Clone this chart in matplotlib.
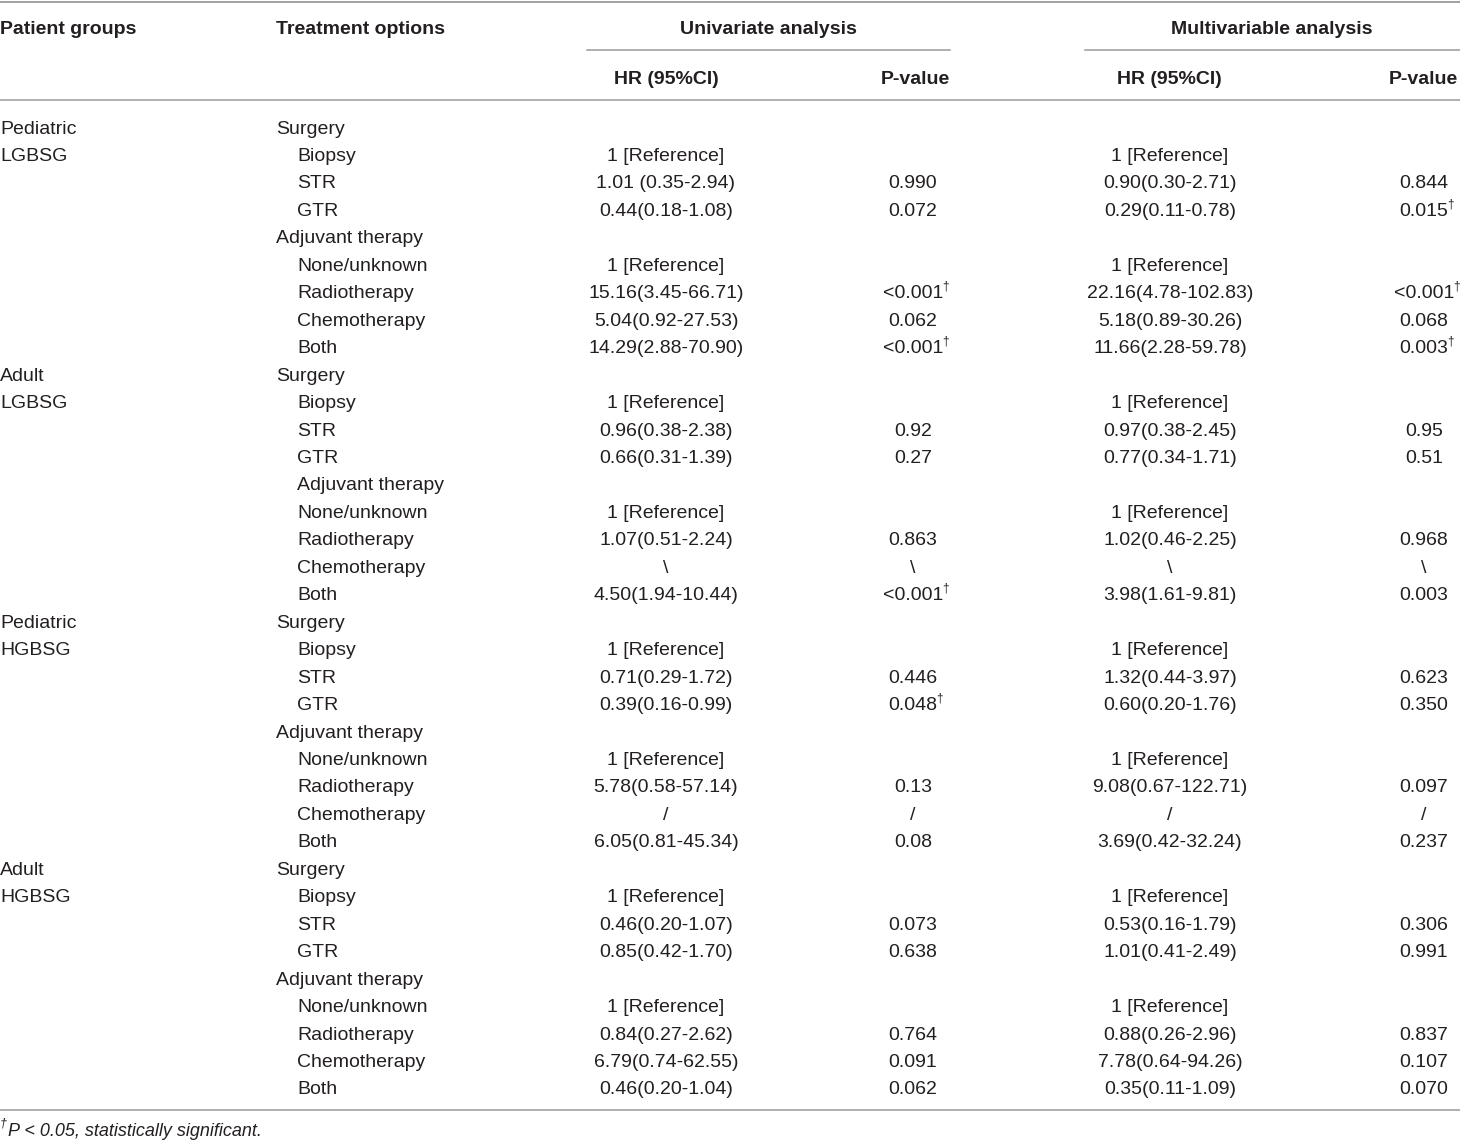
import matplotlib.pyplot as plt

plt.rcParams["font.family"] = ["Liberation Sans", "DejaVu Sans"]

# table content
groups = [["Pediatric", "LGBSG"], ["Adult", "LGBSG"], ["Pediatric", "HGBSG"], ["Adult", "HGBSG"]]
treatments = ["Surgery", "Biopsy", "STR", "GTR", "Adjuvant therapy",
              "None/unknown", "Radiotherapy", "Chemotherapy", "Both"]
indent = [
    [0, 1, 1, 1, 0, 1, 1, 1, 1],
    [0, 1, 1, 1, 1, 1, 1, 1, 1],
    [0, 1, 1, 1, 0, 1, 1, 1, 1],
    [0, 1, 1, 1, 0, 1, 1, 1, 1],
]
ref = "1 [Reference]"
uni_hr = [
    ["", ref, "1.01 (0.35-2.94)", "0.44(0.18-1.08)", "", ref, "15.16(3.45-66.71)", "5.04(0.92-27.53)", "14.29(2.88-70.90)"],
    ["", ref, "0.96(0.38-2.38)", "0.66(0.31-1.39)", "", ref, "1.07(0.51-2.24)", "\\", "4.50(1.94-10.44)"],
    ["", ref, "0.71(0.29-1.72)", "0.39(0.16-0.99)", "", ref, "5.78(0.58-57.14)", "/", "6.05(0.81-45.34)"],
    ["", ref, "0.46(0.20-1.07)", "0.85(0.42-1.70)", "", ref, "0.84(0.27-2.62)", "6.79(0.74-62.55)", "0.46(0.20-1.04)"],
]
uni_p = [
    ["", "", "0.990", "0.072", "", "", "<0.001†", "0.062", "<0.001†"],
    ["", "", "0.92", "0.27", "", "", "0.863", "\\", "<0.001†"],
    ["", "", "0.446", "0.048†", "", "", "0.13", "/", "0.08"],
    ["", "", "0.073", "0.638", "", "", "0.764", "0.091", "0.062"],
]
multi_hr = [
    ["", ref, "0.90(0.30-2.71)", "0.29(0.11-0.78)", "", ref, "22.16(4.78-102.83)", "5.18(0.89-30.26)", "11.66(2.28-59.78)"],
    ["", ref, "0.97(0.38-2.45)", "0.77(0.34-1.71)", "", ref, "1.02(0.46-2.25)", "\\", "3.98(1.61-9.81)"],
    ["", ref, "1.32(0.44-3.97)", "0.60(0.20-1.76)", "", ref, "9.08(0.67-122.71)", "/", "3.69(0.42-32.24)"],
    ["", ref, "0.53(0.16-1.79)", "1.01(0.41-2.49)", "", ref, "0.88(0.26-2.96)", "7.78(0.64-94.26)", "0.35(0.11-1.09)"],
]
multi_p = [
    ["", "", "0.844", "0.015†", "", "", "<0.001†", "0.068", "0.003†"],
    ["", "", "0.95", "0.51", "", "", "0.968", "\\", "0.003"],
    ["", "", "0.623", "0.350", "", "", "0.097", "/", "0.237"],
    ["", "", "0.306", "0.991", "", "", "0.837", "0.107", "0.070"],
]

W, H = 1460, 1141
fig = plt.figure(figsize=(W / 100, H / 100), dpi=100)
ax = fig.add_axes([0, 0, 1, 1])
ax.set_xlim(0, W)
ax.set_ylim(H, 0)
ax.axis("off")

txt = "#231f20"
rule = "#9a9a9a"
fs = 14
off = 3  # va='center' sits a bit high for this font

# rules
ax.plot([0, W], [1.5, 1.5], color=rule, lw=1.3)
ax.plot([587, 950], [50, 50], color=rule, lw=1.1)
ax.plot([1085, W], [50, 50], color=rule, lw=1.1)
ax.plot([0, W], [100, 100], color=rule, lw=1.1)
ax.plot([0, W], [1110, 1110], color=rule, lw=1.1)

# headers
hb = dict(fontsize=fs, fontweight="bold", color=txt, va="center")
ax.text(0, 26 + off, "Patient groups", ha="left", **hb)
ax.text(276, 26 + off, "Treatment options", ha="left", **hb)
ax.text(768, 26 + off, "Univariate analysis", ha="center", **hb)
ax.text(1272, 26 + off, "Multivariable analysis", ha="center", **hb)
ax.text(666, 76 + off, "HR (95%CI)", ha="center", **hb)
ax.text(950, 76 + off, "P-value", ha="right", **hb)
ax.text(1169, 76 + off, "HR (95%CI)", ha="center", **hb)
ax.text(1458, 76 + off, "P-value", ha="right", **hb)

renderer = fig.canvas.get_renderer()
inv = ax.transData.inverted()


def pval(x, y, s):
    dag = s.endswith("†")
    s = s.rstrip("†")
    t = ax.text(x, y, s, ha="center", va="center", fontsize=fs, color=txt)
    if dag:
        bb = t.get_window_extent(renderer)
        xr = inv.transform((bb.x1, bb.y1))[0]
        ax.text(xr - 1, y - 7, "†", ha="left", va="center", fontsize=8.5, color=txt)


y0, dy = 126 + off, (1087 - 126) / 35
row = 0
for g in range(len(groups)):
    for i, lab in enumerate(treatments):
        y = y0 + row * dy
        if i < 2:
            ax.text(0, y, groups[g][i], ha="left", va="center", fontsize=fs, color=txt)
        ax.text(276 + 21 * indent[g][i], y, lab, ha="left", va="center", fontsize=fs, color=txt)
        if uni_hr[g][i]:
            ax.text(666, y, uni_hr[g][i], ha="center", va="center", fontsize=fs, color=txt)
        if uni_p[g][i]:
            pval(913, y, uni_p[g][i])
        if multi_hr[g][i]:
            ax.text(1170, y, multi_hr[g][i], ha="center", va="center", fontsize=fs, color=txt)
        if multi_p[g][i]:
            pval(1424, y, multi_p[g][i])
        row += 1

# footnote
ax.text(0, 1124, "†", ha="left", va="center", fontsize=9, color=txt, style="italic")
ax.text(8, 1131, "P < 0.05, statistically significant.", ha="left", va="center",
        fontsize=13, color=txt, style="italic")

fig.savefig("out.png", dpi=100)
